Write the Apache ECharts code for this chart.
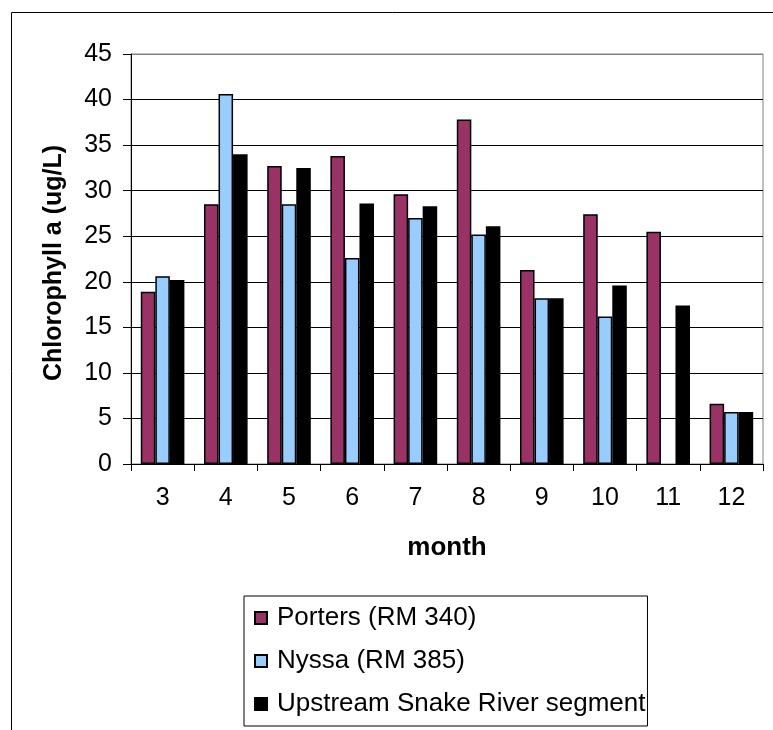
<!DOCTYPE html>
<html>
<head>
<meta charset="utf-8">
<script src="https://cdn.jsdelivr.net/npm/echarts@6/dist/echarts.min.js"></script>
<style>
html,body{margin:0;padding:0;background:#fff;}
#chart{width:773px;height:730px;}
</style>
</head>
<body>
<div id="chart"></div>
<script>
var months = ['3','4','5','6','7','8','9','10','11','12'];
var porters = [18.9, 28.5, 32.7, 33.8, 29.6, 37.8, 21.3, 27.4, 25.5, 6.6];
var nyssa = [20.6, 40.6, 28.5, 22.6, 27.0, 25.2, 18.2, 16.2, null, 5.7];
var upstream = [20.2, 34.0, 32.5, 28.6, 28.3, 26.1, 18.2, 19.6, 17.4, 5.7];
var seriesNames = ['Porters (RM 340)', 'Nyssa (RM 385)', 'Upstream Snake River segment'];
var yTicks = {min: 0, max: 45, interval: 5};

var FONT = 'Liberation Sans, Arial, sans-serif';
var chart = echarts.init(document.getElementById('chart'), null, {renderer: 'canvas'});

function barSeries(name, data, color) {
  return {
    name: name,
    type: 'bar',
    data: data,
    barGap: '0%',
    barCategoryGap: '31%',
    itemStyle: {color: color, borderColor: '#000', borderWidth: 1.5},
    emphasis: {disabled: true}
  };
}

var gridColors = [];
for (var i = 0; i < 9; i++) gridColors.push('#000');
gridColors.push('#808080');

chart.setOption({
  backgroundColor: '#fff',
  animation: false,
  textStyle: {fontFamily: FONT},
  grid: {left: 131, top: 54, right: 10, bottom: 266, show: true, borderColor: '#808080', borderWidth: 1, containLabel: false},
  graphic: [{
    type: 'rect',
    shape: {x: 11.5, y: 12.5, width: 1000, height: 1000},
    style: {fill: null, stroke: '#000', lineWidth: 1},
    silent: true,
    z: -1
  }],
  legend: {
    orient: 'vertical',
    left: 244,
    top: 596,
    padding: [9, 2, 9, 10],
    itemGap: 17,
    itemWidth: 12,
    itemHeight: 12,
    icon: 'rect',
    borderColor: '#000',
    borderWidth: 1,
    data: seriesNames,
    textStyle: {fontFamily: FONT, fontSize: 26, color: '#000', padding: [0, 0, 0, 5]}
  },
  xAxis: {
    type: 'category',
    data: months,
    name: 'month',
    nameLocation: 'middle',
    nameGap: 71,
    nameTextStyle: {fontFamily: FONT, fontSize: 26, fontWeight: 'bold', color: '#000'},
    axisLine: {lineStyle: {color: '#000', width: 1}},
    axisTick: {show: true, length: 7, lineStyle: {color: '#000'}},
    axisLabel: {fontFamily: FONT, fontSize: 25, color: '#000', margin: 22}
  },
  yAxis: {
    type: 'value',
    min: yTicks.min,
    max: yTicks.max,
    interval: yTicks.interval,
    name: 'Chlorophyll a (ug/L)',
    nameLocation: 'middle',
    nameGap: 64,
    nameTextStyle: {fontFamily: FONT, fontSize: 25, fontWeight: 'bold', color: '#000', padding: [0, 8, 0, 0]},
    axisLine: {show: true, lineStyle: {color: '#000', width: 1}},
    axisTick: {show: true, length: 8, lineStyle: {color: '#000'}},
    axisLabel: {fontFamily: FONT, fontSize: 25, color: '#000', margin: 19},
    splitLine: {show: true, lineStyle: {color: gridColors, width: 1}}
  },
  series: [
    barSeries(seriesNames[0], porters, '#993366'),
    barSeries(seriesNames[1], nyssa, '#99CCFF'),
    barSeries(seriesNames[2], upstream, '#000000')
  ]
});
</script>
</body>
</html>
